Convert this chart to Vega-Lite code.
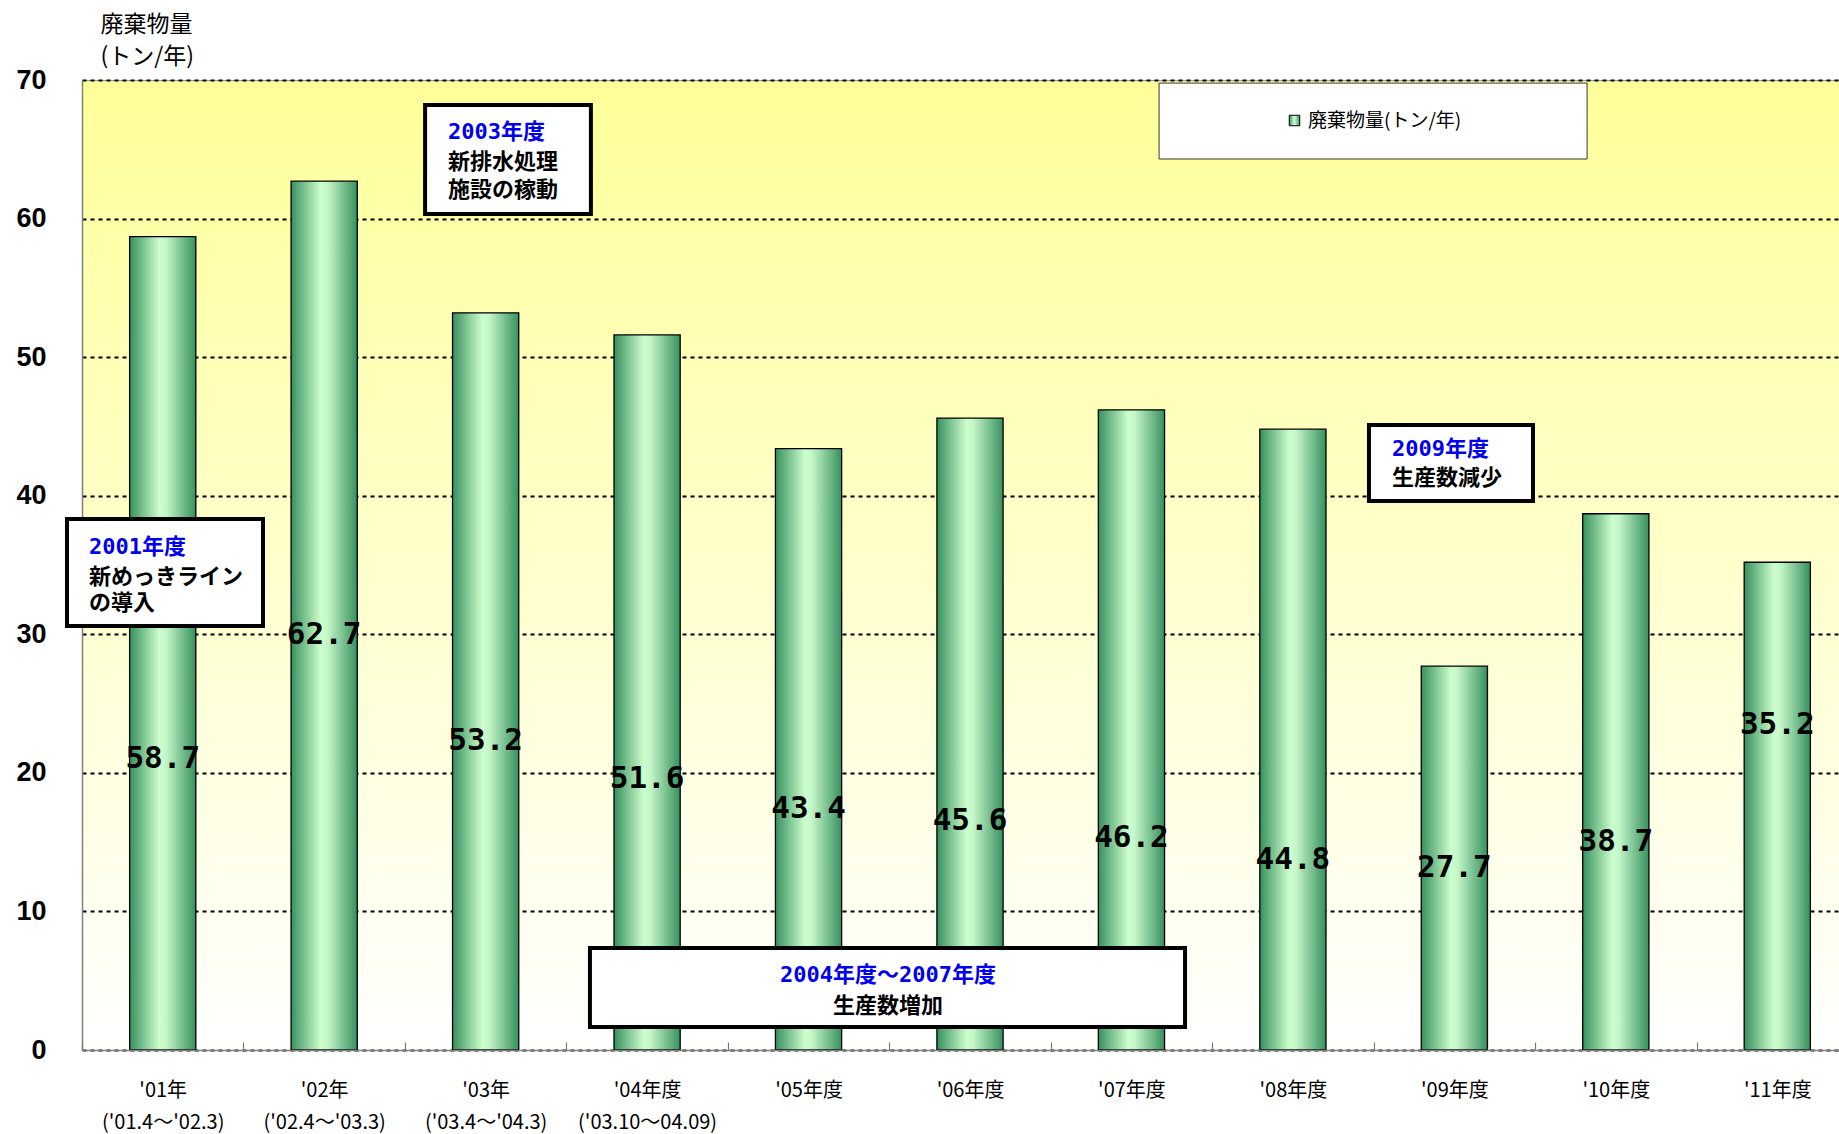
{
  "$schema": "https://vega.github.io/schema/vega-lite/v6.json",
  "width": 1757,
  "height": 970,
  "autosize": {"type": "none"},
  "padding": {"left": 82, "top": 80, "right": 0, "bottom": 84},
  "background": "#ffffff",
  "config": {
    "view": {
      "stroke": "#999999",
      "strokeWidth": 1,
      "fill": {
        "gradient": "linear",
        "x1": 0, "y1": 0, "x2": 0, "y2": 1,
        "stops": [
          {"offset": 0, "color": "#ffff99"},
          {"offset": 1, "color": "#ffffff"}
        ]
      }
    },
    "axisY": {
      "titleAngle": 0,
      "titleAlign": "left",
      "titleBaseline": "top",
      "titleX": 18,
      "titleY": -67,
      "titleFont": "Noto Sans CJK JP",
      "titleFontSize": 23,
      "titleFontWeight": "normal",
      "titleLineHeight": 32,
      "titleColor": "#000000",
      "tickCount": 7,
      "labelFont": "Liberation Sans",
      "labelFontWeight": "bold",
      "labelFontSize": 27,
      "labelColor": "#000000",
      "labelPadding": 36,
      "ticks": false,
      "domain": true,
      "domainColor": "#808080",
      "domainWidth": 1.5,
      "grid": true,
      "gridColor": "#000000",
      "gridDash": [4, 4],
      "gridWidth": 2
    }
  },
  "datasets": {
    "waste": [
      {"period": "'01年|('01.4～'02.3)", "tons": 58.7},
      {"period": "'02年|('02.4～'03.3)", "tons": 62.7},
      {"period": "'03年|('03.4～'04.3)", "tons": 53.2},
      {"period": "'04年度|('03.10～04.09)", "tons": 51.6},
      {"period": "'05年度", "tons": 43.4},
      {"period": "'06年度", "tons": 45.6},
      {"period": "'07年度", "tons": 46.2},
      {"period": "'08年度", "tons": 44.8},
      {"period": "'09年度", "tons": 27.7},
      {"period": "'10年度", "tons": 38.7},
      {"period": "'11年度", "tons": 35.2}
    ],
    "valueLabels": [
      {"period": "'01年|('01.4～'02.3)", "tons": 58.7, "labelY": 21.0},
      {"period": "'02年|('02.4～'03.3)", "tons": 62.7, "labelY": 29.98},
      {"period": "'03年|('03.4～'04.3)", "tons": 53.2, "labelY": 22.3},
      {"period": "'04年度|('03.10～04.09)", "tons": 51.6, "labelY": 19.56},
      {"period": "'05年度", "tons": 43.4, "labelY": 17.4},
      {"period": "'06年度", "tons": 45.6, "labelY": 16.5},
      {"period": "'07年度", "tons": 46.2, "labelY": 15.33},
      {"period": "'08年度", "tons": 44.8, "labelY": 13.7},
      {"period": "'09年度", "tons": 27.7, "labelY": 13.1},
      {"period": "'10年度", "tons": 38.7, "labelY": 15.0},
      {"period": "'11年度", "tons": 35.2, "labelY": 23.45}
    ],
    "legendFrame": [
      {"x0": 6.671, "x1": 9.322, "y0": 69.78, "y1": 64.3}
    ],
    "boxes": [
      {"x0": -0.093, "x1": 1.121, "y0": 38.32, "y1": 30.6},
      {"x0": 2.125, "x1": 3.152, "y0": 68.2, "y1": 60.33},
      {"x0": 3.146, "x1": 6.832, "y0": 7.36, "y1": 1.66},
      {"x0": 7.971, "x1": 8.987, "y0": 45.1, "y1": 39.62}
    ],
    "notesLeft": [
      {"x": 0.043, "y": 36.3, "text": "2001年度", "kind": "heading"},
      {"x": 0.043, "y": 34.13, "text": "新めっきライン", "kind": "body"},
      {"x": 0.043, "y": 32.26, "text": "の導入", "kind": "body"},
      {"x": 2.267, "y": 66.25, "text": "2003年度", "kind": "heading"},
      {"x": 2.267, "y": 64.08, "text": "新排水処理", "kind": "body"},
      {"x": 2.267, "y": 62.06, "text": "施設の稼動", "kind": "body"},
      {"x": 8.114, "y": 43.37, "text": "2009年度", "kind": "heading"},
      {"x": 8.114, "y": 41.28, "text": "生産数減少", "kind": "body"}
    ],
    "notesCenter": [
      {"x": 4.992, "y": 5.41, "text": "2004年度～2007年度", "kind": "heading"},
      {"x": 4.992, "y": 3.18, "text": "生産数増加", "kind": "body"}
    ]
  },
  "layer": [
    {
      "data": {"name": "waste"},
      "mark": {
        "type": "bar",
        "fill": {
          "gradient": "linear",
          "x1": 0, "y1": 0, "x2": 1, "y2": 0,
          "stops": [
            {"offset": 0, "color": "#37905f"},
            {"offset": 0.45, "color": "#ccffcc"},
            {"offset": 0.55, "color": "#c4f6c8"},
            {"offset": 1, "color": "#37905f"}
          ]
        },
        "strokeWidth": 1.3
      },
      "encoding": {
        "x": {
          "field": "period", "type": "nominal", "sort": null,
          "scale": {"range": [0, 1776], "paddingInner": 0.59, "paddingOuter": 0.295},
          "axis": null
        },
        "y": {
          "field": "tons", "type": "quantitative",
          "title": ["廃棄物量", "(トン/年)"],
          "scale": {"domain": [0, 70], "nice": false}
        },
        "stroke": {
          "datum": "廃棄物量(トン/年)",
          "scale": {"range": ["#000000"]},
          "legend": {
            "orient": "none",
            "legendX": 1077,
            "legendY": 3,
            "title": null,
            "padding": 28,
            "symbolOffset": 98,
            "symbolType": "square",
            "symbolSize": 110,
            "symbolFillColor": "#b5ebbf",
            "symbolStrokeColor": "#000000",
            "symbolStrokeWidth": 1,
            "labelFont": "Noto Sans CJK JP",
            "labelFontSize": 19,
            "labelColor": "#000000",
            "labelOffset": 4,
            "labelLimit": 600
          }
        }
      }
    },
    {
      "data": {"name": "valueLabels"},
      "mark": {"type": "text", "font": "DejaVu Sans Mono", "fontWeight": "bold", "fontSize": 31, "color": "#000000", "baseline": "middle", "align": "center"},
      "encoding": {
        "x": {
          "field": "period", "type": "nominal", "sort": null,
          "scale": {"range": [0, 1776], "paddingInner": 0, "paddingOuter": 0},
          "axis": {
            "title": null,
            "labelExpr": "split(datum.label, '|')",
            "labelAngle": 0,
            "labelFont": "Noto Sans CJK JP",
            "labelFontSize": 20,
            "labelColor": "#000000",
            "labelLineHeight": 32,
            "labelBaseline": "top",
            "labelPadding": 38,
            "labelLimit": 0,
            "tickBand": "extent",
            "ticks": true,
            "tickSize": -8,
            "tickWidth": 1.2,
            "tickColor": "#777777",
            "domainColor": "#808080",
            "domainWidth": 1.5,
            "grid": false,
            "zindex": 2
          }
        },
        "y": {"field": "labelY", "type": "quantitative", "title": ["廃棄物量", "(トン/年)"], "scale": {"domain": [0, 70], "nice": false}},
        "text": {"field": "tons", "type": "quantitative", "format": ".1f"}
      }
    },
    {
      "data": {"name": "legendFrame"},
      "mark": {"type": "rect", "fill": "#ffffff", "stroke": "#333333", "strokeWidth": 1},
      "encoding": {
        "x": {"field": "x0", "type": "quantitative", "scale": {"domain": [0, 11], "range": [0, 1776], "nice": false, "zero": false}, "axis": null},
        "x2": {"field": "x1"},
        "y": {"field": "y0", "type": "quantitative", "title": ["廃棄物量", "(トン/年)"], "scale": {"domain": [0, 70], "nice": false}},
        "y2": {"field": "y1"}
      }
    },
    {
      "data": {"name": "boxes"},
      "mark": {"type": "rect", "fill": "#ffffff", "stroke": "#000000", "strokeWidth": 4},
      "encoding": {
        "x": {"field": "x0", "type": "quantitative", "scale": {"domain": [0, 11], "range": [0, 1776], "nice": false, "zero": false}, "axis": null},
        "x2": {"field": "x1"},
        "y": {"field": "y0", "type": "quantitative", "title": ["廃棄物量", "(トン/年)"], "scale": {"domain": [0, 70], "nice": false}},
        "y2": {"field": "y1"}
      }
    },
    {
      "data": {"name": "notesLeft"},
      "mark": {"type": "text", "font": "DejaVu Sans Mono, Noto Sans CJK JP", "fontWeight": "bold", "fontSize": 22, "align": "left", "baseline": "middle"},
      "encoding": {
        "x": {"field": "x", "type": "quantitative", "scale": {"domain": [0, 11], "range": [0, 1776], "nice": false, "zero": false}, "axis": null},
        "y": {"field": "y", "type": "quantitative", "title": ["廃棄物量", "(トン/年)"], "scale": {"domain": [0, 70], "nice": false}},
        "text": {"field": "text"},
        "color": {"field": "kind", "type": "nominal", "scale": {"domain": ["heading", "body"], "range": ["#0000ee", "#000000"]}, "legend": null}
      }
    },
    {
      "data": {"name": "notesCenter"},
      "mark": {"type": "text", "font": "DejaVu Sans Mono, Noto Sans CJK JP", "fontWeight": "bold", "fontSize": 22, "align": "center", "baseline": "middle"},
      "encoding": {
        "x": {"field": "x", "type": "quantitative", "scale": {"domain": [0, 11], "range": [0, 1776], "nice": false, "zero": false}, "axis": null},
        "y": {"field": "y", "type": "quantitative", "title": ["廃棄物量", "(トン/年)"], "scale": {"domain": [0, 70], "nice": false}},
        "text": {"field": "text"},
        "color": {"field": "kind", "type": "nominal", "scale": {"domain": ["heading", "body"], "range": ["#0000ee", "#000000"]}, "legend": null}
      }
    }
  ],
  "resolve": {"scale": {"x": "independent"}}
}
